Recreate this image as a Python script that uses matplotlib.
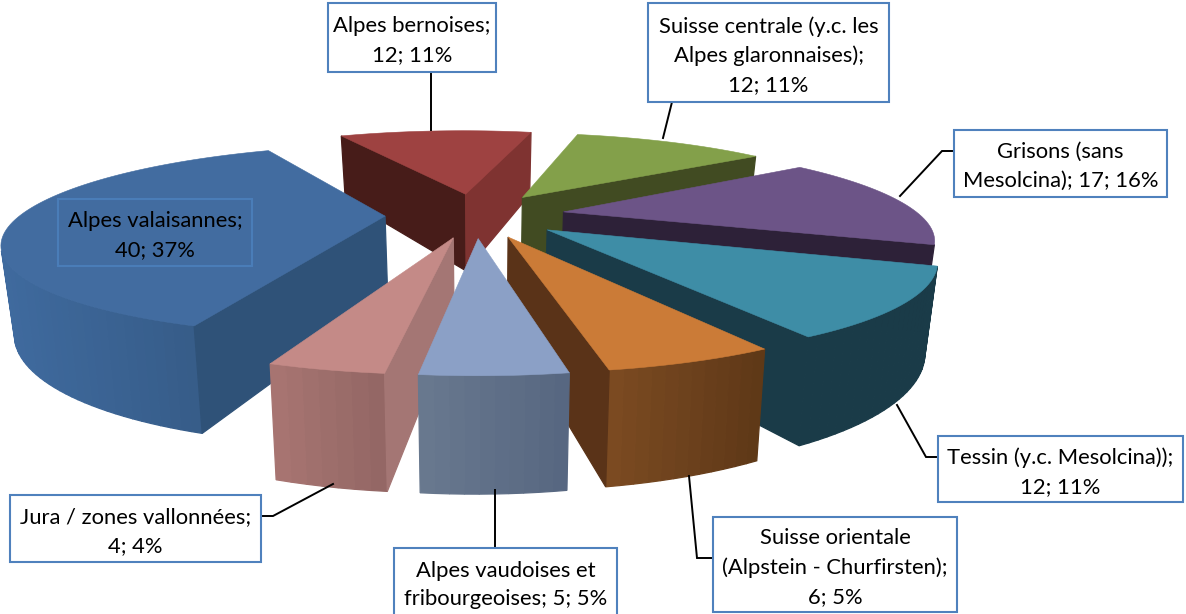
import numpy as np
import matplotlib
matplotlib.use('Agg')
import matplotlib.pyplot as plt
from matplotlib.patches import Polygon, Rectangle

regions = ['Alpes valaisannes', 'Alpes bernoises', 'Suisse centrale', 'Grisons', 'Tessin',
           'Suisse orientale', 'Alpes vaudoises', 'Jura']
values = [40, 12, 12, 17, 12, 6, 5, 4]
labels = ['Alpes valaisannes;\n40; 37%',
          'Alpes bernoises;\n12; 11%',
          'Suisse centrale (y.c. les\nAlpes glaronnaises);\n12; 11%',
          'Grisons (sans\nMesolcina); 17; 16%',
          'Tessin (y.c. Mesolcina));\n12; 11%',
          'Suisse orientale\n(Alpstein - Churfirsten);\n6; 5%',
          'Alpes vaudoises et\nfribourgeoises; 5; 5%',
          'Jura / zones vallonnées;\n4; 4%']

top_colors = ['#426CA0', '#9E4241', '#83A04A', '#6C5487', '#3E8DA6', '#CB7B37', '#8BA0C6', '#C48A87']
# radial wall at the start / end of each slice
start_wall = ['#2F5278', '#471C19', '#414B22', '#2D2138', '#1A3B48', '#5A3318', '#5C6B85', '#A47674']
end_wall = ['#2F5278', '#7F3331', '#414B22', '#2D2138', '#1A3B48', '#5A3318', '#5C6B85', '#A47674']
# outer wall, shaded from left to right on screen
wall_left = ['#3F6A9E', '#7F3331', '#414B22', '#2D2138', '#1A3B48', '#7C4B22', '#69798F', '#A87572']
wall_right = ['#335780', '#7F3331', '#414B22', '#2D2138', '#1A3B48', '#5E3817', '#566680', '#926664']

# label boxes: x0, y0, x1, y1 in pixels
boxes = [(58, 199, 252, 266), (328, 3, 496, 72), (648, 3, 889, 102), (954, 130, 1167, 197),
         (938, 436, 1183, 502), (713, 517, 957, 612), (394, 548, 617, 620), (10, 495, 261, 562)]
leaders = [None,
           [(431, 72), (431, 130)],
           [(672, 102), (663, 138)],
           [(954, 151), (942, 151), (900, 196)],
           [(938, 457), (926, 457), (897, 405)],
           [(713, 558), (697, 558), (689, 476)],
           [(495, 548), (495, 490)],
           [(261, 516), (273, 516), (333, 484)]]

first_angle = 198.5
explode = 0.25
center_x = 483
scale_x = 360
scale_y = 354
horizon = -139
persist = 0.25
depth = 0.23
taper = 0.972
skew = -38
roll = 0.008


def project(x, y, low=False):
    s = 1 / (1 + persist * y)
    px = center_x + scale_x * s * x + skew * (s - 0.8)
    py = horizon + scale_y * s + roll * (px - center_x)
    if low:
        px = center_x + taper * (px - center_x)
        py = py + depth * scale_y * s
    return px, py


def area(pts):
    a = 0
    for i in range(len(pts)):
        x0, y0 = pts[i]
        x1, y1 = pts[(i + 1) % len(pts)]
        a += x0 * y1 - x1 * y0
    return a / 2


def mix(c0, c1, t):
    a = np.array(matplotlib.colors.to_rgb(c0))
    b = np.array(matplotlib.colors.to_rgb(c1))
    return a + (b - a) * t


fig = plt.figure(figsize=(11.86, 6.14), dpi=100)
ax = fig.add_axes([0, 0, 1, 1])
ax.set_xlim(0, 1186)
ax.set_ylim(614, 0)
ax.axis('off')
plt.rcParams['font.family'] = ['Lato', 'DejaVu Sans']

sweeps = np.array(values) / sum(values) * 360
starts = first_angle + np.concatenate([[0], np.cumsum(sweeps)[:-1]])


def draw_face(pts, color):
    # only faces turned to the viewer, screen y points down
    if area(pts) < 0:
        ax.add_patch(Polygon(pts, closed=True, facecolor=color, edgecolor=color, linewidth=0.9))


mids = np.radians(starts + sweeps / 2)
for i in np.argsort(-np.cos(mids)):
    ox = explode * np.sin(mids[i])
    oy = explode * np.cos(mids[i])
    th = np.radians(np.linspace(starts[i], starts[i] + sweeps[i], max(int(sweeps[i] / 1.5), 4)))
    xs = ox + np.sin(th)
    ys = oy + np.cos(th)

    rim = [project(a, b) for a, b in zip(xs, ys)]
    rim_low = [project(a, b, True) for a, b in zip(xs, ys)]
    apex = project(ox, oy)
    apex_low = project(ox, oy, True)

    left = min(p[0] for p in rim)
    right = max(p[0] for p in rim)
    for k in range(len(rim) - 1):
        t = ((rim[k][0] + rim[k + 1][0]) / 2 - left) / (right - left)
        draw_face([rim[k], rim[k + 1], rim_low[k + 1], rim_low[k]], mix(wall_left[i], wall_right[i], t))
    draw_face([apex, rim[0], rim_low[0], apex_low], start_wall[i])
    draw_face([rim[-1], apex, apex_low, rim_low[-1]], end_wall[i])
    ax.add_patch(Polygon([apex] + rim, closed=True, facecolor=top_colors[i], edgecolor=top_colors[i], linewidth=0.4))

for i, lab in enumerate(labels):
    x0, y0, x1, y1 = boxes[i]
    if leaders[i] is not None:
        ax.plot(*zip(*leaders[i]), color='black', linewidth=1.4, solid_joinstyle='miter', zorder=5)
        ax.add_patch(Rectangle((x0, y0), x1 - x0, y1 - y0, facecolor='white', edgecolor='#4F81BD', linewidth=1.5, zorder=6))
    else:
        ax.add_patch(Rectangle((x0, y0), x1 - x0, y1 - y0, facecolor='none', edgecolor='#4A7DB8', linewidth=1.5, zorder=6))
    cy = (y0 + y1) / 2 + 3 if i != 6 else 585
    ax.text((x0 + x1) / 2, cy, lab, ha='center', va='center', fontsize=15.8, linespacing=1.55,
            color='black', zorder=7)

fig.savefig('out.png', dpi=100)
